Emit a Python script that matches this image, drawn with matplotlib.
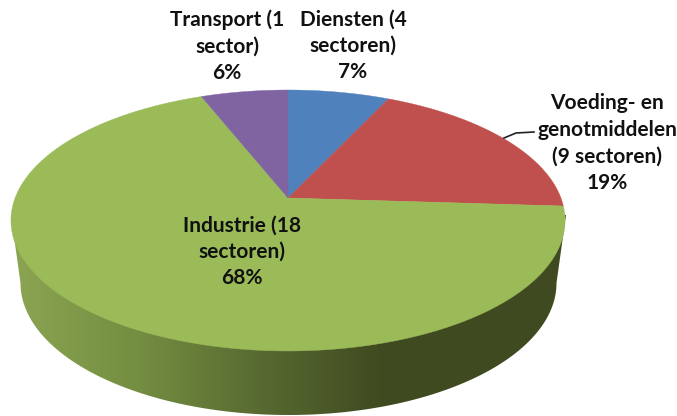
import numpy as np
import matplotlib
matplotlib.use("Agg")
import matplotlib.pyplot as plt
from matplotlib.colors import LinearSegmentedColormap
from matplotlib.patches import Polygon

# data
labels = ["Diensten (4\nsectoren)\n7%",
          "Voeding- en\ngenotmiddelen\n(9 sectoren)\n19%",
          "Industrie (18\nsectoren)\n68%",
          "Transport (1\nsector)\n6%"]
values = [7, 19, 68, 6]
colors = ["#4f81bd", "#c0504d", "#9bbb59", "#8064a2"]
label_x = [353, 607, 242, 227]
label_y = [46, 143, 252, 46]

# tilted disc: the apex sits above the centre of the ellipse
cx, cy = 288, 198
k = -0.1724
A, B = 272.9, 126.6


def project(theta):
    # theta clockwise from the top of the circle, in radians
    u, v = np.sin(theta), np.cos(theta)
    d = 1 - k * v
    return cx + A * u / d, cy - B * v / d


fig = plt.figure(figsize=(6.77, 4.16), dpi=100)
ax = fig.add_axes([0, 0, 1, 1])
ax.set_xlim(0, 677)
ax.set_ylim(416, 0)
ax.axis("off")

# side of the disc, lower ellipse is a bit smaller
t = np.radians(np.linspace(90, 270, 200))
low_x = 288.5 + 268 * np.sin(t)
low_y = 283 - 132 * np.cos(t)
side = np.vstack([[566, 215], np.column_stack([low_x, low_y]), [11, 215]])
shade = LinearSegmentedColormap.from_list("shade", [
    (0.0, "#8ba553"), (0.22, "#758f42"), (0.467, "#56672f"),
    (0.671, "#3f4a20"), (1.0, "#3f4a20")])
grad = ax.imshow(np.linspace(0, 1, 256)[None, :], cmap=shade, aspect="auto",
                 extent=[11, 566, 416, 200], zorder=1)
clip = Polygon(side, transform=ax.transData)
grad.set_clip_path(clip)
ax.set_xlim(0, 677)
ax.set_ylim(416, 0)

# top face, slices clockwise from the top
ends = np.cumsum(values) / np.sum(values) * 2 * np.pi
starts = ends - np.radians(np.array(values) / np.sum(values) * 360)
for a, b, c in zip(starts, ends, colors):
    th = np.linspace(a, b, 200)
    x, y = project(th)
    ax.fill(np.r_[cx, x], np.r_[cy, y], color=c, lw=0.3, zorder=2)

# leader line of the Voeding label
ax.plot([504, 516, 534], [138, 133, 132], color="#222222", lw=1.2, zorder=3)

for s, x, y in zip(labels, label_x, label_y):
    ax.text(x, y, s, ha="center", va="center", family="Lato", weight="bold",
            fontsize=15, color="#111111", linespacing=1.4, zorder=4)

fig.savefig("out.png", dpi=100)
